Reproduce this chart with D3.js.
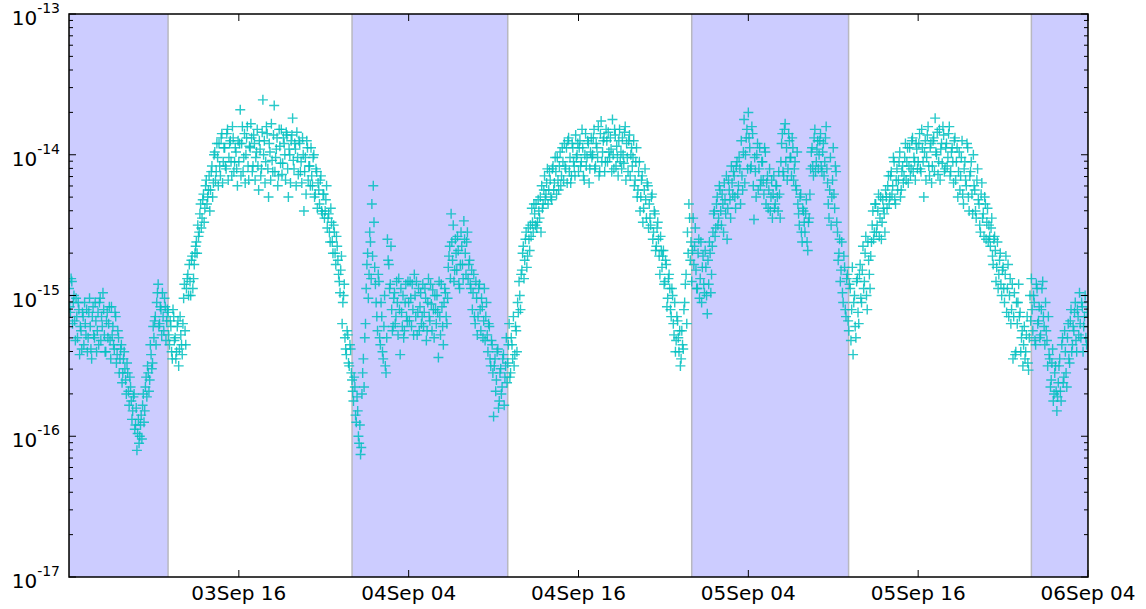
<!DOCTYPE html>
<html><head><meta charset="utf-8">
<script src="https://cdnjs.cloudflare.com/ajax/libs/d3/7.8.5/d3.min.js"></script>
<style>body{margin:0;background:#fff;} svg{display:block;font-family:"DejaVu Sans",sans-serif;}</style>
</head><body><svg id="c" width="1146" height="609"></svg>
<script>
// ---- data ----
const startTime = "2014-09-03T04:00:00Z";
const endTime = "2014-09-06T04:00:00Z";
const cadenceMinutes = 6;      // each set: one sample every 6 minutes
const offsetMinutesB = 3;      // set B is sampled 3 minutes after set A
// log10 of the plotted quantity, 120 samples per 12-hour block (set A)
const block1 = [
-14.95,-15.12,-14.90,-15.05,-15.18,-15.02,-15.30,-15.10,-15.22,-15.38,
-15.15,-15.05,-15.28,-15.40,-15.12,-15.22,-15.45,-15.08,-15.30,-15.18,
-15.25,-15.35,-15.02,-15.15,-14.98,-15.28,-15.40,-15.12,-15.20,-15.32,
-15.08,-15.22,-15.38,-15.15,-15.42,-15.30,-15.45,-15.35,-15.55,-15.40,
-15.60,-15.48,-15.68,-15.58,-15.75,-15.82,-15.70,-15.92,-16.10,-15.88,
-16.00,-15.85,-15.78,-15.90,-15.65,-15.72,-15.55,-15.60,-15.42,-15.48,
-15.30,-15.15,-15.05,-14.92,-15.20,-15.10,-14.98,-15.25,-15.08,-15.18,
-15.12,-15.35,-15.22,-15.45,-15.15,-15.30,-15.40,-15.18,-15.38,-15.28,
-15.42,-15.02,-15.25,-14.95,-14.85,-14.78,-15.00,-14.72,-14.88,-14.70,
-14.62,-14.50,-14.55,-14.35,-14.45,-14.28,-14.38,-14.18,-14.30,-14.15,
-14.25,-14.08,-14.20,-13.98,-14.12,-14.02,-13.92,-14.15,-13.85,-14.05,
-13.95,-14.10,-13.82,-14.02,-13.90,-14.15,-13.88,-14.05,-13.98,-14.22];
const block2 = [
-14.05,-13.68,-13.92,-14.12,-13.85,-14.00,-13.80,-14.18,-13.95,-13.88,
-14.08,-13.92,-14.02,-13.82,-14.25,-13.96,-14.10,-13.61,-13.90,-14.05,
-13.85,-14.30,-13.98,-13.78,-14.12,-13.65,-14.02,-13.88,-14.15,-13.94,
-13.82,-14.06,-13.92,-14.18,-13.86,-14.30,-14.00,-13.90,-13.74,-14.10,
-13.96,-13.84,-14.14,-13.92,-14.05,-13.88,-14.40,-14.02,-13.90,-14.18,
-14.08,-13.95,-14.22,-14.00,-14.28,-14.12,-14.20,-14.35,-14.15,-14.42,
-14.28,-14.40,-14.22,-14.45,-14.55,-14.38,-14.62,-14.50,-14.70,-14.58,
-14.75,-14.90,-14.82,-15.20,-15.00,-15.30,-15.42,-15.28,-15.50,-15.38,
-15.60,-15.75,-15.65,-15.90,-15.82,-16.05,-16.13,-15.70,-15.45,-15.30,
-14.95,-14.70,-14.85,-14.62,-14.35,-14.22,-14.80,-15.05,-15.25,-14.90,
-15.35,-15.15,-15.45,-15.00,-15.55,-14.60,-14.78,-14.92,-15.10,-15.22,
-14.98,-15.15,-15.05,-14.88,-15.42,-15.12,-15.00,-15.25,-14.92,-15.18];
const block3 = [
-15.05,-14.90,-15.22,-15.10,-14.85,-15.15,-15.28,-14.95,-15.08,-15.20,
-14.92,-15.12,-15.02,-15.25,-14.88,-15.18,-15.06,-14.96,-15.30,-15.10,
-15.00,-15.44,-15.15,-14.92,-15.22,-15.05,-14.98,-15.20,-14.80,-14.65,
-14.42,-14.75,-14.90,-14.60,-14.82,-14.68,-14.95,-14.55,-14.78,-14.47,
-14.70,-14.62,-14.88,-14.75,-14.95,-15.10,-14.85,-15.20,-15.02,-15.15,
-14.92,-15.25,-15.08,-15.18,-15.32,-15.05,-15.40,-15.22,-15.50,-15.35,
-15.86,-15.45,-15.60,-15.38,-15.75,-15.52,-15.65,-15.42,-15.58,-15.30,
-15.48,-15.20,-15.55,-15.35,-15.15,-15.42,-15.25,-15.05,-14.90,-15.10,
-14.82,-14.65,-14.75,-14.55,-14.72,-14.60,-14.50,-14.38,-14.55,-14.42,
-14.35,-14.48,-14.40,-14.30,-14.22,-14.35,-14.15,-14.28,-14.10,-14.25,
-14.18,-14.32,-14.08,-14.20,-14.12,-14.02,-14.25,-13.98,-14.15,-14.05,
-13.92,-14.10,-14.20,-13.88,-14.02,-14.15,-13.95,-14.08,-13.86,-14.00];
const block4 = [
-14.12,-13.90,-14.05,-13.95,-14.18,-13.85,-14.02,-13.92,-14.10,-13.88,
-14.00,-13.82,-14.08,-13.95,-13.80,-14.12,-13.76,-13.98,-13.88,-14.05,
-13.90,-13.84,-14.02,-13.96,-13.75,-14.10,-13.86,-13.94,-14.15,-13.82,
-13.98,-13.88,-14.06,-13.80,-13.92,-14.12,-13.86,-14.00,-14.08,-13.90,
-14.18,-13.95,-14.25,-14.05,-14.30,-14.15,-14.38,-14.10,-14.45,-14.22,
-14.35,-14.50,-14.28,-14.55,-14.42,-14.65,-14.48,-14.72,-14.58,-14.80,
-14.68,-14.90,-14.78,-15.02,-14.85,-15.10,-14.95,-15.20,-15.05,-15.32,
-15.18,-15.40,-15.50,-15.25,-15.38,-15.05,-14.85,-14.55,-14.35,-14.75,
-14.90,-14.45,-14.65,-14.82,-14.95,-14.60,-14.88,-15.05,-14.72,-14.98,
-14.80,-15.13,-14.92,-14.70,-14.85,-14.55,-14.40,-14.52,-14.30,-14.45,
-14.25,-14.50,-14.35,-14.20,-14.42,-14.60,-14.18,-14.32,-14.08,-14.28,
-14.15,-14.38,-14.05,-14.22,-14.10,-13.90,-14.25,-13.75,-14.00,-13.82];
const block5 = [
-13.70,-13.95,-14.08,-13.85,-14.46,-14.12,-14.00,-14.25,-13.95,-14.18,
-14.05,-14.28,-13.98,-14.20,-14.38,-14.10,-14.30,-14.45,-14.15,-14.35,
-14.22,-14.40,-14.28,-14.05,-13.85,-14.15,-13.78,-13.95,-14.10,-13.90,
-14.02,-13.88,-14.18,-14.05,-14.25,-14.35,-14.50,-14.28,-14.62,-14.40,
-14.55,-14.32,-14.68,-14.45,-14.10,-13.95,-14.15,-13.82,-14.05,-13.90,
-14.00,-13.85,-14.12,-13.92,-14.05,-13.80,-14.20,-14.45,-14.02,-14.30,
-13.95,-14.38,-14.12,-14.55,-14.70,-14.90,-14.62,-15.05,-14.80,-15.15,
-14.85,-15.25,-14.95,-15.10,-15.42,-15.00,-15.30,-14.88,-15.20,-14.78,
-15.05,-14.65,-14.90,-14.58,-15.10,-14.75,-14.95,-14.62,-14.40,-14.55,
-14.35,-14.50,-14.28,-14.45,-14.60,-14.32,-14.42,-14.25,-14.38,-14.15,
-14.30,-14.12,-14.22,-14.05,-14.35,-14.10,-14.18,-13.98,-14.25,-14.08,
-14.15,-13.92,-14.05,-14.20,-13.95,-14.10,-13.88,-14.02,-14.18,-13.96];
const block6 = [
-14.05,-13.85,-14.12,-13.95,-14.30,-13.90,-14.02,-13.80,-14.15,-13.92,
-14.08,-13.88,-13.74,-14.00,-14.14,-13.82,-13.96,-14.06,-13.86,-14.10,
-13.92,-14.02,-13.80,-14.12,-13.95,-14.20,-13.88,-14.05,-14.30,-13.98,
-14.15,-13.90,-14.35,-14.05,-14.22,-13.95,-14.40,-14.12,-14.28,-14.00,
-14.25,-14.45,-14.10,-14.35,-14.55,-14.20,-14.42,-14.30,-14.60,-14.38,
-14.50,-14.65,-14.45,-14.78,-14.58,-14.90,-14.62,-14.85,-14.70,-15.00,
-14.80,-15.05,-14.72,-14.95,-15.15,-14.88,-15.10,-15.45,-14.98,-15.40,
-15.20,-14.92,-15.12,-15.30,-15.50,-15.22,-15.40,-15.15,-15.53,-15.00,
-14.88,-15.25,-15.05,-15.35,-14.95,-15.18,-15.30,-15.10,-14.90,-15.22,
-15.05,-15.32,-15.15,-15.45,-15.60,-15.38,-15.70,-15.50,-15.82,-15.62,
-15.45,-15.75,-15.30,-15.58,-15.40,-15.65,-15.20,-15.48,-15.10,-15.35,
-15.25,-15.05,-15.40,-15.15,-14.98,-15.30,-15.08,-15.22,-15.00,-15.35];
// set B (interleaved samples)
const block1b = [
-15.08,-14.88,-15.20,-15.00,-15.32,-15.15,-15.05,-15.42,-15.25,-15.12,
-15.35,-15.20,-15.10,-15.30,-15.02,-15.38,-15.15,-15.28,-15.05,-15.40,
-15.12,-15.05,-15.32,-15.22,-15.10,-15.40,-15.18,-15.30,-15.08,-15.45,
-15.28,-15.35,-15.12,-15.48,-15.25,-15.55,-15.38,-15.62,-15.45,-15.52,
-15.70,-15.55,-15.78,-15.65,-15.88,-15.72,-15.95,-15.80,-15.98,-16.05,
-15.92,-16.02,-15.70,-15.82,-15.58,-15.50,-15.68,-15.35,-15.52,-15.22,
-15.18,-15.35,-14.98,-15.22,-15.08,-15.28,-15.15,-15.02,-15.32,-15.10,
-15.28,-15.18,-15.40,-15.10,-15.32,-15.45,-15.22,-15.50,-15.15,-15.35,
-15.20,-14.92,-15.35,-14.88,-15.00,-14.90,-14.75,-14.95,-14.78,-14.65,
-14.70,-14.58,-14.42,-14.52,-14.32,-14.48,-14.22,-14.35,-14.25,-14.40,
-14.12,-14.30,-14.00,-14.18,-13.92,-14.22,-14.08,-13.88,-14.20,-13.95,
-14.08,-13.85,-14.18,-13.92,-14.05,-13.80,-14.12,-13.95,-14.10,-13.90];
const block2b = [
-13.92,-14.15,-13.80,-14.02,-14.20,-13.88,-14.08,-13.94,-13.78,-14.12,
-13.86,-14.18,-13.98,-14.08,-13.90,-14.15,-13.84,-14.00,-14.20,-13.80,
-14.10,-13.92,-14.18,-14.04,-13.86,-14.12,-13.96,-14.22,-13.82,-14.06,
-14.14,-13.88,-14.00,-13.84,-14.10,-13.96,-14.20,-13.86,-14.04,-13.92,
-14.22,-14.02,-13.90,-14.12,-14.20,-14.00,-14.12,-14.28,-13.95,-14.08,
-14.22,-14.15,-14.02,-14.30,-14.10,-14.38,-14.25,-14.18,-14.40,-14.28,
-14.45,-14.32,-14.52,-14.42,-14.62,-14.48,-14.70,-14.55,-14.78,-14.65,
-14.85,-14.98,-14.72,-15.05,-14.92,-15.38,-15.25,-15.48,-15.35,-15.55,
-15.68,-15.58,-15.85,-15.72,-16.00,-15.92,-16.08,-15.55,-15.65,-15.20,
-14.78,-15.02,-14.55,-14.88,-14.72,-14.48,-14.92,-15.15,-14.85,-15.30,
-15.05,-15.40,-15.22,-15.50,-15.30,-14.75,-14.95,-14.65,-15.25,-15.02,
-15.20,-14.90,-15.28,-15.10,-14.95,-15.22,-15.30,-15.05,-15.15,-14.90];
const block3b = [
-15.18,-15.02,-14.92,-15.28,-15.00,-14.90,-15.12,-15.25,-14.98,-15.15,
-15.22,-14.95,-15.32,-15.05,-15.15,-14.92,-15.25,-15.10,-15.00,-15.20,
-15.12,-14.90,-15.28,-15.08,-15.35,-14.95,-15.15,-15.02,-14.72,-14.88,
-14.62,-14.50,-14.82,-14.70,-14.58,-14.92,-14.78,-14.65,-14.88,-14.60,
-14.85,-14.55,-14.78,-14.92,-14.82,-14.98,-15.15,-14.90,-15.28,-14.95,
-15.10,-15.02,-15.30,-14.95,-15.15,-15.28,-15.20,-15.45,-15.32,-15.55,
-15.50,-15.68,-15.40,-15.80,-15.55,-15.70,-15.45,-15.78,-15.50,-15.62,
-15.35,-15.58,-15.30,-15.45,-15.50,-15.22,-15.40,-15.12,-15.00,-14.85,
-14.70,-14.88,-14.60,-14.80,-14.52,-14.68,-14.58,-14.48,-14.35,-14.50,
-14.52,-14.32,-14.45,-14.55,-14.38,-14.25,-14.32,-14.20,-14.35,-14.12,
-14.30,-14.10,-14.25,-14.02,-14.28,-14.18,-14.08,-14.22,-13.95,-14.18,
-14.08,-13.95,-13.90,-14.12,-14.20,-13.92,-14.05,-14.15,-14.02,-13.92];
const block4b = [
-13.95,-14.08,-13.82,-14.15,-14.00,-14.08,-13.90,-14.20,-13.98,-14.02,
-13.88,-14.10,-13.92,-14.02,-14.15,-13.85,-14.05,-13.90,-14.12,-13.82,
-14.05,-13.98,-13.88,-14.12,-14.00,-13.82,-14.08,-14.02,-13.90,-14.05,
-14.10,-14.00,-13.84,-14.18,-14.02,-13.90,-14.15,-13.95,-14.02,-14.22,
-14.05,-14.30,-14.12,-14.40,-14.18,-14.48,-14.25,-14.32,-14.20,-14.52,
-14.45,-14.30,-14.60,-14.40,-14.68,-14.52,-14.60,-14.85,-14.68,-14.72,
-14.92,-14.75,-15.08,-14.88,-14.95,-15.15,-15.00,-15.28,-15.40,-15.15,
-15.30,-15.25,-15.45,-15.35,-15.10,-14.92,-15.20,-14.70,-14.45,-14.62,
-14.68,-14.78,-14.52,-14.95,-14.70,-15.02,-14.62,-14.80,-14.92,-14.68,
-15.00,-14.75,-14.62,-14.98,-14.65,-14.42,-14.58,-14.35,-14.50,-14.22,
-14.40,-14.28,-14.55,-14.32,-14.15,-14.38,-14.25,-14.45,-14.20,-14.12,
-14.30,-14.08,-14.28,-14.02,-14.35,-14.15,-13.98,-14.20,-13.88,-14.10];
const block5b = [
-13.88,-14.10,-13.80,-14.22,-14.02,-14.30,-13.92,-14.10,-14.22,-14.05,
-14.18,-13.95,-14.35,-14.15,-14.25,-14.40,-14.18,-14.28,-14.38,-14.22,
-14.30,-14.12,-14.45,-13.92,-14.12,-13.82,-14.05,-14.18,-13.85,-14.02,
-14.15,-13.95,-14.10,-14.22,-13.98,-14.42,-14.30,-14.55,-14.38,-14.48,
-14.42,-14.62,-14.48,-14.28,-13.98,-14.08,-13.88,-14.12,-13.96,-14.10,
-13.90,-14.08,-13.98,-14.15,-13.88,-14.10,-14.35,-14.25,-14.50,-14.18,
-14.28,-14.08,-14.48,-14.75,-14.60,-14.82,-14.98,-14.72,-15.10,-14.88,
-15.18,-14.92,-15.32,-14.80,-15.05,-15.22,-14.90,-15.12,-14.85,-15.02,
-14.82,-14.95,-14.70,-15.00,-14.62,-14.85,-14.72,-14.50,-14.60,-14.35,
-14.55,-14.40,-14.58,-14.30,-14.48,-14.38,-14.55,-14.30,-14.22,-14.35,
-14.15,-14.28,-14.02,-14.32,-14.18,-14.25,-14.05,-14.30,-14.12,-14.20,
-14.02,-14.18,-13.95,-14.08,-14.15,-13.90,-14.12,-14.05,-13.92,-14.10];
const block6b = [
-13.92,-14.10,-13.82,-14.05,-13.98,-14.18,-13.86,-14.08,-13.95,-14.20,
-13.90,-14.12,-13.98,-13.84,-14.05,-14.18,-13.92,-13.80,-14.12,-13.95,
-14.08,-13.85,-14.15,-13.98,-14.05,-13.90,-14.18,-13.95,-14.12,-14.25,
-14.02,-14.28,-14.10,-14.18,-13.92,-14.30,-14.15,-14.05,-14.42,-14.22,
-14.40,-14.18,-14.32,-14.50,-14.28,-14.45,-14.58,-14.35,-14.48,-14.62,
-14.58,-14.52,-14.72,-14.60,-14.68,-14.80,-14.95,-14.75,-14.92,-14.82,
-14.95,-14.85,-15.12,-14.78,-15.00,-15.20,-14.92,-15.15,-15.42,-15.05,
-15.05,-15.15,-15.40,-15.25,-15.35,-15.45,-15.28,-15.48,-15.30,-15.18,
-15.10,-15.00,-15.32,-14.92,-15.20,-15.08,-15.28,-14.95,-15.15,-15.35,
-15.25,-15.50,-15.42,-15.65,-15.48,-15.75,-15.55,-15.68,-15.72,-15.50,
-15.68,-15.35,-15.62,-15.25,-15.55,-15.30,-15.45,-15.18,-15.40,-15.22,
-15.12,-15.32,-15.10,-15.28,-15.20,-15.05,-15.40,-15.15,-15.30,-15.12];
const nightStarts = ["2014-09-03T04:00:00Z","2014-09-04T00:00:00Z","2014-09-05T00:00:00Z","2014-09-06T00:00:00Z"];
const nightEnds   = ["2014-09-03T11:00:00Z","2014-09-04T11:00:00Z","2014-09-05T11:05:00Z","2014-09-06T04:00:00Z"];
const xTickTimes = ["2014-09-03T16:00:00Z","2014-09-04T04:00:00Z","2014-09-04T16:00:00Z","2014-09-05T04:00:00Z","2014-09-05T16:00:00Z","2014-09-06T04:00:00Z"];
const xTickLabels = ["03Sep 16","04Sep 04","04Sep 16","05Sep 04","05Sep 16","06Sep 04"];
const yTickExponents = [-17,-16,-15,-14,-13];
const yTickLabels = ["-17","-16","-15","-14","-13"];

// ---- chart ----
const L = 69, R = 1088, T = 14, B = 577;
const svg = d3.select("#c");
const x = d3.scaleUtc().domain([new Date(startTime), new Date(endTime)]).range([L, R]);
const y = d3.scaleLog().domain([1e-17, 1e-13]).range([B, T]);

const t0 = new Date(startTime).getTime();
const setA = [].concat(block1, block2, block3, block4, block5, block6);
const setB = [].concat(block1b, block2b, block3b, block4b, block5b, block6b);
const points = setA.map((v, i) => ({t: new Date(t0 + i * cadenceMinutes * 60000), v: Math.pow(10, v)}))
  .concat(setB.map((v, i) => ({t: new Date(t0 + (i * cadenceMinutes + offsetMinutesB) * 60000), v: Math.pow(10, v)})));

svg.append("defs").append("clipPath").attr("id", "clip")
  .append("rect").attr("x", L).attr("y", T).attr("width", R - L).attr("height", B - T);

// night bands
const bands = nightStarts.map((s, i) => ({s: new Date(s), e: new Date(nightEnds[i])}));
const bg = svg.append("g").attr("clip-path", "url(#clip)");
bg.selectAll("rect.band").data(bands).join("rect").attr("class", "band")
  .attr("x", d => x(d.s)).attr("y", T).attr("width", d => x(d.e) - x(d.s)).attr("height", B - T)
  .attr("fill", "#ccccff");
bg.selectAll("line.edge").data(bands.flatMap(d => [d.s, d.e])).join("line").attr("class", "edge")
  .attr("x1", d => x(d)).attr("x2", d => x(d)).attr("y1", T).attr("y2", B)
  .attr("stroke", "#b8b8c0").attr("stroke-width", 1.5);

// points
const pg = svg.append("g").attr("clip-path", "url(#clip)");
pg.selectAll("path").data(points).join("path")
  .attr("d", d => `M${x(d.t) - 5},${y(d.v)}h10M${x(d.t)},${y(d.v) - 5}v10`)
  .attr("stroke", "#00bfbf").attr("stroke-width", 1.4).attr("stroke-opacity", 0.85).attr("fill", "none");

// ticks
const ax = svg.append("g").attr("stroke", "#000").attr("stroke-width", 1);
const xt = xTickTimes.map(s => new Date(s));
xt.forEach(t => {
  const px = x(t);
  ax.append("line").attr("x1", px).attr("x2", px).attr("y1", B).attr("y2", B - 7);
  ax.append("line").attr("x1", px).attr("x2", px).attr("y1", T).attr("y2", T + 7);
});
yTickExponents.forEach(e => {
  const py = y(Math.pow(10, e));
  ax.append("line").attr("x1", L).attr("x2", L + 7).attr("y1", py).attr("y2", py);
  ax.append("line").attr("x1", R).attr("x2", R - 7).attr("y1", py).attr("y2", py);
  if (e < -13) {
    for (let k = 2; k <= 9; k++) {
      const pm = y(k * Math.pow(10, e));
      ax.append("line").attr("x1", L).attr("x2", L + 4).attr("y1", pm).attr("y2", pm);
      ax.append("line").attr("x1", R).attr("x2", R - 4).attr("y1", pm).attr("y2", pm);
    }
  }
});
// frame
svg.append("rect").attr("x", L).attr("y", T).attr("width", R - L).attr("height", B - T)
  .attr("fill", "none").attr("stroke", "#000").attr("stroke-width", 1.5);

// labels
svg.append("g").selectAll("text").data(xt).join("text")
  .attr("x", d => x(d)).attr("y", 600).attr("text-anchor", "middle")
  .attr("font-size", 20).attr("fill", "#000").text((d, i) => xTickLabels[i]);
yTickExponents.forEach((e, i) => {
  const py = y(Math.pow(10, e));
  const tx = svg.append("text").attr("x", 60).attr("y", py + 11).attr("text-anchor", "end").attr("fill", "#000");
  tx.append("tspan").attr("font-size", 20).text("10");
  tx.append("tspan").attr("font-size", 14).attr("dy", -12).text(yTickLabels[i]);
});
</script></body></html>
